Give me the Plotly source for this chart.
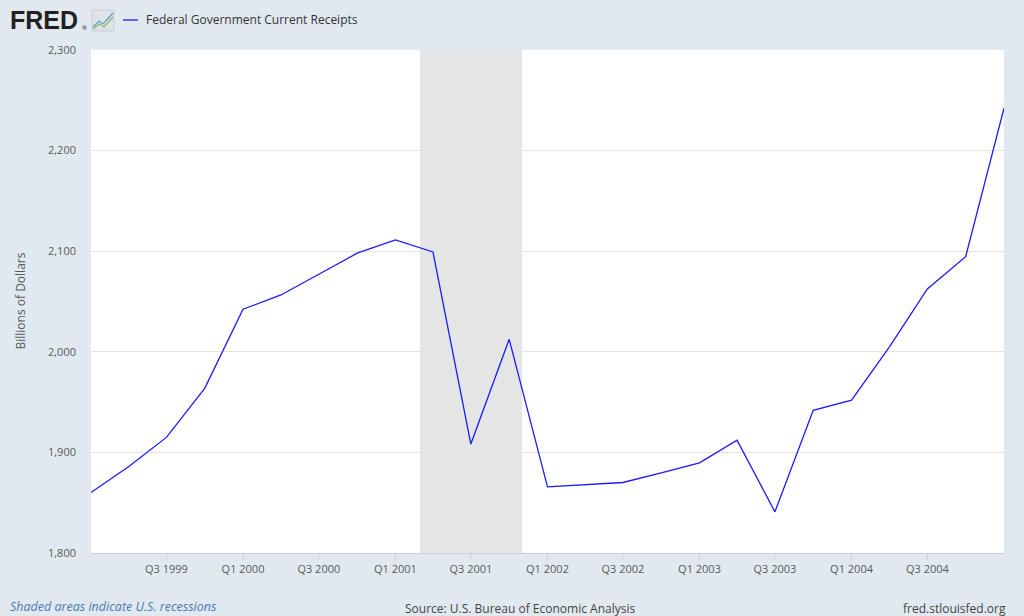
import plotly.graph_objects as go

# Quarterly observations (first day of quarter)
dates = [
    "1999-01-01", "1999-04-01", "1999-07-01", "1999-10-01",
    "2000-01-01", "2000-04-01", "2000-07-01", "2000-10-01",
    "2001-01-01", "2001-04-01", "2001-07-01", "2001-10-01",
    "2002-01-01", "2002-04-01", "2002-07-01", "2002-10-01",
    "2003-01-01", "2003-04-01", "2003-07-01", "2003-10-01",
    "2004-01-01", "2004-04-01", "2004-07-01", "2004-10-01",
    "2005-01-01",
]
receipts = [
    1860.2, 1885.7, 1914.9, 1963.7,
    2042.3, 2056.5, 2077.1, 2098.0,
    2111.2, 2099.3, 1908.3, 2012.4,
    1865.8, 1867.8, 1870.1, 1879.7,
    1889.6, 1912.2, 1840.9, 1941.8,
    1952.0, 2005.0, 2062.5, 2094.6,
    2242.3,
]

tick_dates = ["1999-07-01", "2000-01-01", "2000-07-01", "2001-01-01",
              "2001-07-01", "2002-01-01", "2002-07-01", "2003-01-01",
              "2003-07-01", "2004-01-01", "2004-07-01"]
tick_labels = ["Q3 1999", "Q1 2000", "Q3 2000", "Q1 2001", "Q3 2001",
               "Q1 2002", "Q3 2002", "Q1 2003", "Q3 2003", "Q1 2004",
               "Q3 2004"]

recession_start = "2001-03-01"
recession_end = "2001-11-01"

series_name = "Federal Government Current Receipts"
line_color = "#1a1aff"
bg = "#e1e9f0"
txt = "#595959"

fig = go.Figure()
fig.add_trace(go.Scatter(x=dates, y=receipts, mode="lines", name=series_name,
                         line=dict(color=line_color, width=1.3),
                         showlegend=False))

fig.add_vrect(x0=recession_start, x1=recession_end, fillcolor="#e5e5e5",
              line_width=0, layer="below", opacity=1)

fig.update_layout(
    width=1024, height=616,
    paper_bgcolor=bg, plot_bgcolor="white",
    margin=dict(l=91, r=20, t=50, b=63),
    font=dict(family="Open Sans, Noto Sans, sans-serif", size=11, color=txt),
    xaxis=dict(type="date", range=["1999-01-01", "2005-01-01"],
               tickvals=tick_dates, ticktext=tick_labels,
               showgrid=False, zeroline=False,
               showline=True, linecolor="#c5d2e0", linewidth=1,
               ticks="outside", ticklen=6, tickcolor="#c5d2e0",
               tickfont=dict(size=11, color=txt)),
    yaxis=dict(range=[1800, 2300], dtick=100, tickformat=",",
               showgrid=True, gridcolor="#e3e3e3", gridwidth=1,
               zeroline=False, showline=False, ticks="",
               ticklabelstandoff=14,
               tickfont=dict(size=11, color=txt)),
)


def px(xp):
    return (xp - 91) / 913


def py(yp):
    return (553 - yp) / 503


# Y-axis title
fig.add_annotation(text="Billions of Dollars", xref="paper", yref="paper",
                   x=px(20), y=0.5, textangle=-90, showarrow=False,
                   xanchor="center", yanchor="middle",
                   font=dict(size=12, color=txt))

# FRED logo text
fig.add_annotation(text="<b>FRED</b>", xref="paper", yref="paper",
                   x=px(8), y=py(20), xanchor="left",
                   yanchor="middle", showarrow=False,
                   font=dict(family="Liberation Sans, Arial, sans-serif",
                             size=25, color="#231f20"))
fig.add_annotation(text="®", xref="paper", yref="paper",
                   x=px(80), y=py(28), xanchor="left",
                   yanchor="middle", showarrow=False,
                   font=dict(size=6, color="#231f20"))
# small logo icon
fig.add_shape(type="rect", xref="paper", yref="paper",
              x0=px(92), x1=px(114), y0=py(31), y1=py(10),
              fillcolor="#dfe3e6", line=dict(color="#c8cdd2", width=1))
fig.add_shape(type="path", xref="paper", yref="paper",
              path=f"M{px(93)},{py(27)} L{px(99)},{py(21)} L{px(103)},{py(24)} L{px(113)},{py(13)}",
              line=dict(color="#5b9bd5", width=1.2))
fig.add_shape(type="path", xref="paper", yref="paper",
              path=f"M{px(93)},{py(29)} L{px(99)},{py(24)} L{px(104)},{py(27)} L{px(113)},{py(17)}",
              line=dict(color="#8cb85c", width=1.2))

# Legend substitute
fig.add_shape(type="line", xref="paper", yref="paper",
              x0=px(123), x1=px(138), y0=py(20), y1=py(20),
              line=dict(color="#6666ff", width=2))
fig.add_annotation(text=series_name, xref="paper", yref="paper",
                   x=px(144), y=py(20), xanchor="left", yanchor="middle",
                   showarrow=False, font=dict(size=12, color="#333333"))

# Footer texts
fig.add_annotation(text="<i>Shaded areas indicate U.S. recessions</i>",
                   xref="paper", yref="paper", x=px(8), y=py(606),
                   xanchor="left", yanchor="middle", showarrow=False,
                   font=dict(size=12.5, color="#4a78b0"))
fig.add_annotation(text="Source: U.S. Bureau of Economic Analysis",
                   xref="paper", yref="paper", x=px(520), y=py(608),
                   xanchor="center", yanchor="middle", showarrow=False,
                   font=dict(size=12, color="#444444"))
fig.add_annotation(text="fred.stlouisfed.org",
                   xref="paper", yref="paper", x=px(1008), y=py(608),
                   xanchor="right", yanchor="middle", showarrow=False,
                   font=dict(size=12, color="#444444"))

fig.write_html(
    "out.html",
    config={"displayModeBar": False},
    post_script="document.body.style.margin='0';document.body.style.overflow='hidden';",
)
